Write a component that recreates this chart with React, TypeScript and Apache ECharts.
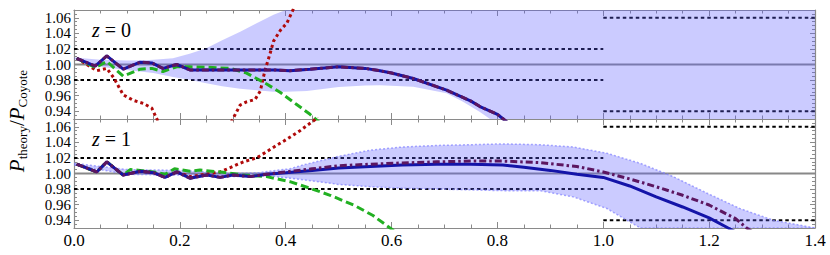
import React, { useEffect, useRef } from 'react';
import * as echarts from 'echarts';

const FONT = 'Liberation Serif';

// x axis tick labels
const xTickValues = [0, 0.2, 0.4, 0.6, 0.8, 1.0, 1.2, 1.4];

// reference levels
const unityLevel = 1.0;
const innerRangeX = [0, 1.0];
const innerLevels = [0.98, 1.02];
const outerRangeX = [1.0, 1.4];
const outerLevels = [0.94, 1.06];

// ---------- z = 0 panel ----------
const blue0: any[] = [
  [0.005, 1.008], [0.04, 0.998], [0.062, 1.011], [0.093, 0.994], [0.125, 1.003], [0.147, 1.002],
  [0.168, 0.995], [0.194, 1.0], [0.219, 0.993], [0.25, 0.993], [0.3, 0.993], [0.35, 0.993],
  [0.38, 0.993], [0.408, 0.992], [0.446, 0.994], [0.5, 0.997], [0.55, 0.995], [0.578, 0.992],
  [0.6, 0.989], [0.641, 0.982], [0.704, 0.967], [0.75, 0.953], [0.767, 0.946], [0.8, 0.936],
  [0.811, 0.93], [0.82, 0.925],
];
const purple0: any[] = blue0;
const green0: any[] = [
  [0.005, 1.008], [0.04, 0.996], [0.062, 1.004], [0.093, 0.985], [0.125, 0.994], [0.147, 0.995],
  [0.168, 0.991], [0.194, 0.997], [0.219, 0.997], [0.25, 0.9965], [0.295, 0.995], [0.326, 0.989],
  [0.345, 0.982], [0.364, 0.975], [0.39, 0.964], [0.42, 0.949], [0.446, 0.936], [0.465, 0.925],
];
const red0: any[] = [
  [0.005, 1.008], [0.043, 0.992], [0.062, 0.995], [0.075, 0.983], [0.093, 0.961], [0.112, 0.954],
  [0.131, 0.95], [0.147, 0.944], [0.16, 0.925], [0.23, '-'],
  [0.297, 0.926], [0.314, 0.948], [0.326, 0.952], [0.342, 0.955], [0.352, 0.966], [0.361, 0.993],
  [0.37, 1.013], [0.377, 1.03], [0.39, 1.044], [0.402, 1.053], [0.415, 1.072],
];
const band0X = [0, 0.05, 0.1, 0.125, 0.15, 0.187, 0.22, 0.25, 0.28, 0.314, 0.345, 0.377, 0.4, 0.44,
  0.5, 0.55, 0.578, 0.641, 0.704, 0.735, 0.767, 0.786, 0.82, 1.0, 1.4];
const band0Hi = [1.009, 1.006, 1.005, 1.005, 1.006, 1.008, 1.014, 1.021, 1.031, 1.042, 1.053, 1.064,
  1.072, 1.09, 1.1, 1.1, 1.1, 1.1, 1.1, 1.1, 1.1, 1.1, 1.1, 1.1, 1.1];
const band0Lo = [1.007, 0.997, 0.993, 0.991, 0.989, 0.984, 0.98, 0.976, 0.972, 0.969, 0.967, 0.965,
  0.965, 0.966, 0.971, 0.973, 0.9735, 0.9715, 0.963, 0.952, 0.939, 0.93, 0.91, 0.9, 0.9];

// ---------- z = 1 panel ----------
const blue1: any[] = [
  [0.005, 1.012], [0.043, 1.002], [0.062, 1.015], [0.093, 0.998], [0.125, 1.003], [0.15, 1.001],
  [0.172, 0.995], [0.194, 1.002], [0.219, 0.994], [0.251, 0.998], [0.276, 0.995], [0.3, 0.998],
  [0.333, 0.996], [0.364, 0.999], [0.4, 1.001], [0.45, 1.004], [0.5, 1.007], [0.56, 1.009],
  [0.62, 1.011], [0.685, 1.012], [0.75, 1.012], [0.81, 1.011], [0.85, 1.008], [0.9, 1.004],
  [0.95, 0.999], [1.0, 0.995], [1.05, 0.984], [1.1, 0.97], [1.15, 0.957], [1.2, 0.943],
  [1.236, 0.93], [1.25, 0.925],
];
const purple1: any[] = [
  [0.005, 1.012], [0.043, 1.002], [0.062, 1.015], [0.093, 0.998], [0.125, 1.003], [0.15, 1.001],
  [0.172, 0.995], [0.194, 1.002], [0.219, 0.994], [0.251, 0.998], [0.276, 0.995], [0.3, 0.998],
  [0.333, 0.996], [0.364, 0.999], [0.4, 1.002], [0.45, 1.006], [0.5, 1.01], [0.56, 1.012],
  [0.62, 1.0135], [0.685, 1.015], [0.75, 1.016], [0.81, 1.016], [0.88, 1.014], [0.95, 1.009],
  [1.0, 1.002], [1.05, 0.993], [1.1, 0.983], [1.15, 0.972], [1.2, 0.9595], [1.25, 0.942],
  [1.271, 0.93], [1.285, 0.924],
];
const green1: any[] = [
  [0.005, 1.012], [0.043, 1.002], [0.062, 1.015], [0.093, 0.998], [0.106, 1.005], [0.125, 1.004],
  [0.15, 1.002], [0.172, 0.999], [0.19, 1.006], [0.219, 1.003], [0.238, 1.0045], [0.282, 1.0015],
  [0.32, 0.998], [0.364, 0.996], [0.408, 0.9895], [0.446, 0.981], [0.484, 0.972], [0.53, 0.959],
  [0.565, 0.946], [0.597, 0.93], [0.61, 0.924],
];
const red1: any[] = [
  [0.005, 1.012], [0.043, 1.002], [0.062, 1.015], [0.093, 0.998], [0.125, 1.003], [0.15, 1.001],
  [0.172, 0.995], [0.194, 1.002], [0.219, 0.996], [0.238, 0.998], [0.276, 1.002], [0.3, 1.009],
  [0.32, 1.015], [0.345, 1.02], [0.364, 1.028], [0.38, 1.035], [0.402, 1.044], [0.427, 1.055],
  [0.455, 1.069], [0.46, 1.073],
];
const band1X = [0, 0.1, 0.2, 0.3, 0.35, 0.37, 0.408, 0.433, 0.5, 0.56, 0.62, 0.685, 0.75, 0.81,
  0.88, 0.943, 1.007, 1.07, 1.132, 1.195, 1.258, 1.321, 1.4];
const band1Hi = [1.013, 1.005, 1.004, 1.0, 1.001, 1.003, 1.006, 1.011, 1.022, 1.03, 1.034, 1.036,
  1.037, 1.038, 1.037, 1.034, 1.026, 1.013, 0.996, 0.975, 0.955, 0.94, 0.93];
const band1Lo = [1.011, 0.999, 0.998, 0.996, 0.997, 0.997, 0.994, 0.992, 0.986, 0.983, 0.981, 0.98,
  0.979, 0.978, 0.978, 0.97, 0.955, 0.93, 0.91, 0.9, 0.9, 0.9, 0.9];

const panelLabels = ['0', '1'];

const GRID_LEFT = 74;
const GRID_W = 741;
const GRID_H = 109;
const GRID_TOPS = [10, 119];

const AX = '#8a8a8a';

function bandSeries(xs: number[], lo: number[], hi: number[], idx: number, outline: boolean) {
  return {
    type: 'custom',
    xAxisIndex: idx * 2,
    yAxisIndex: idx * 2,
    clip: true,
    silent: true,
    z: 3,
    data: [[0, 1]],
    renderItem: (params: any, api: any) => {
      const cs = params.coordSys;
      const clampPt = (p: number[]) => [
        Math.min(Math.max(p[0], cs.x), cs.x + cs.width),
        Math.min(Math.max(p[1], cs.y), cs.y + cs.height),
      ];
      const up = xs.map((x, i) => clampPt(api.coord([x, hi[i]])));
      const dn = xs.map((x, i) => clampPt(api.coord([x, lo[i]])));
      const children: any[] = [
        {
          type: 'polygon',
          shape: { points: up.concat(dn.slice().reverse()) },
          style: { fill: 'rgba(94,94,255,0.32)', stroke: null },
        },
      ];
      if (outline) {
        [up, dn].forEach((pts) =>
          children.push({
            type: 'polyline',
            shape: { points: pts },
            style: { stroke: 'rgba(130,130,255,0.7)', lineWidth: 1.5, lineDash: [2, 2], fill: null },
          })
        );
      }
      return { type: 'group', children };
    },
  };
}

function lineSeries(data: any[], idx: number, color: string, width: number, type: any, z: number) {
  return {
    type: 'line',
    xAxisIndex: idx * 2,
    yAxisIndex: idx * 2,
    data,
    showSymbol: false,
    symbol: 'none',
    silent: true,
    z,
    connectNulls: false,
    lineStyle: { color, width, type, cap: 'butt' },
  };
}

function refSeries(idx: number) {
  const s: any[] = [];
  s.push(lineSeries([[0, unityLevel], [1.4, unityLevel]], idx, '#888888', 2, 'solid', 2));
  innerLevels.forEach((lv) =>
    s.push(lineSeries(innerRangeX.map((x) => [x, lv]), idx, '#000000', 2, [3.5, 3], 2))
  );
  outerLevels.forEach((lv) =>
    s.push(lineSeries(outerRangeX.map((x) => [x, lv]), idx, '#000000', 2, [3.5, 3], 2))
  );
  return s;
}

export default function App() {
  const ref = useRef<HTMLDivElement>(null);
  useEffect(() => {
    if (!ref.current) return;
    const chart = echarts.init(ref.current, null, { renderer: 'svg' });

    const grids = GRID_TOPS.map((top) => ({ left: GRID_LEFT, top, width: GRID_W, height: GRID_H }));

    const xAxes: any[] = [];
    const yAxes: any[] = [];
    [0, 1].forEach((g) => {
      ['bottom', 'top'].forEach((pos) => {
        xAxes.push({
          type: 'value',
          gridIndex: g,
          position: pos,
          min: 0,
          max: 1.4,
          interval: 0.2,
          axisLine: { show: true, onZero: false, lineStyle: { color: AX, width: 1.2 } },
          axisTick: { show: true, inside: true, length: 6, lineStyle: { color: AX } },
          minorTick: { show: true, splitNumber: 4, length: 3.5, lineStyle: { color: AX } },
          splitLine: { show: false },
          minorSplitLine: { show: false },
          axisLabel: {
            show: g === 1 && pos === 'bottom',
            formatter: (v: number) => (xTickValues.some((t) => Math.abs(t - v) < 1e-9) ? v.toFixed(1) : ''),
            fontFamily: FONT,
            fontSize: 17,
            color: '#000',
            margin: 4,
          },
        });
      });
      ['left', 'right'].forEach((pos) => {
        yAxes.push({
          type: 'value',
          gridIndex: g,
          position: pos,
          min: 0.93,
          max: 1.07,
          splitNumber: 7,
          axisLine: { show: true, onZero: false, lineStyle: { color: AX, width: 1.2 } },
          axisTick: { show: true, inside: true, length: 5, lineStyle: { color: AX } },
          minorTick: { show: true, splitNumber: 4, length: 3, lineStyle: { color: AX } },
          splitLine: { show: false },
          minorSplitLine: { show: false },
          axisLabel: {
            show: pos === 'left',
            formatter: (v: number) => {
              const k = Math.round(v * 100);
              return Math.abs(v * 100 - k) < 1e-6 && k % 2 === 0 ? v.toFixed(2) : '';
            },
            fontFamily: FONT,
            fontSize: 15,
            color: '#000',
            margin: 3,
          },
        });
      });
    });

    const series: any[] = [
      ...refSeries(0),
      ...refSeries(1),
      bandSeries(band0X, band0Lo, band0Hi, 0, false),
      bandSeries(band1X, band1Lo, band1Hi, 1, true),
      lineSeries(red0, 0, '#b00a0a', 3, [3, 3], 5),
      lineSeries(green0, 0, '#22b022', 3, [8, 4], 5),
      lineSeries(blue0, 0, '#1414a8', 3, 'solid', 6),
      lineSeries(purple0, 0, '#5c1660', 3, [7, 3, 2.5, 3], 7),
      lineSeries(red1, 1, '#b00a0a', 3, [3, 3], 5),
      lineSeries(green1, 1, '#22b022', 3, [8, 4], 5),
      lineSeries(blue1, 1, '#1414a8', 3, 'solid', 6),
      lineSeries(purple1, 1, '#5c1660', 3, [7, 3, 2.5, 3], 7),
    ];

    const graphics: any[] = [
      {
        type: 'text',
        x: 17,
        y: 121,
        rotation: Math.PI / 2,
        z: 10,
        style: {
          text: '{p|P}{s|theory}{r|/}{p|P}{s|Coyote}',
          align: 'center',
          verticalAlign: 'middle',
          fill: '#000',
          rich: {
            p: { fontSize: 21, fontStyle: 'italic', fontFamily: FONT, lineHeight: 24, fill: '#000' },
            r: { fontSize: 21, fontFamily: FONT, lineHeight: 24, fill: '#000' },
            s: { fontSize: 13, fontFamily: FONT, lineHeight: 8, verticalAlign: 'bottom', fill: '#000' },
          },
        },
      },
      ...panelLabels.map((lab, i) => ({
        type: 'text',
        x: 92,
        y: GRID_TOPS[i] + 20,
        z: 10,
        style: {
          text: '{i|z}{r| = ' + lab + '}',
          fontSize: 20,
          fontFamily: FONT,
          fill: '#000',
          align: 'left',
          verticalAlign: 'middle',
          rich: {
            i: { fontSize: 20, fontStyle: 'italic', fontFamily: FONT, fill: '#000' },
            r: { fontSize: 20, fontFamily: FONT, fill: '#000' },
          },
        },
      })),
    ];

    chart.setOption({
      animation: false,
      grid: grids,
      xAxis: xAxes,
      yAxis: yAxes,
      series,
      graphic: graphics,
    });
    return () => chart.dispose();
  }, []);
  return (
    <div
      ref={ref}
      style={{ position: 'absolute', left: 0, top: 0, width: 830, height: 255, background: '#fff' }}
    />
  );
}
